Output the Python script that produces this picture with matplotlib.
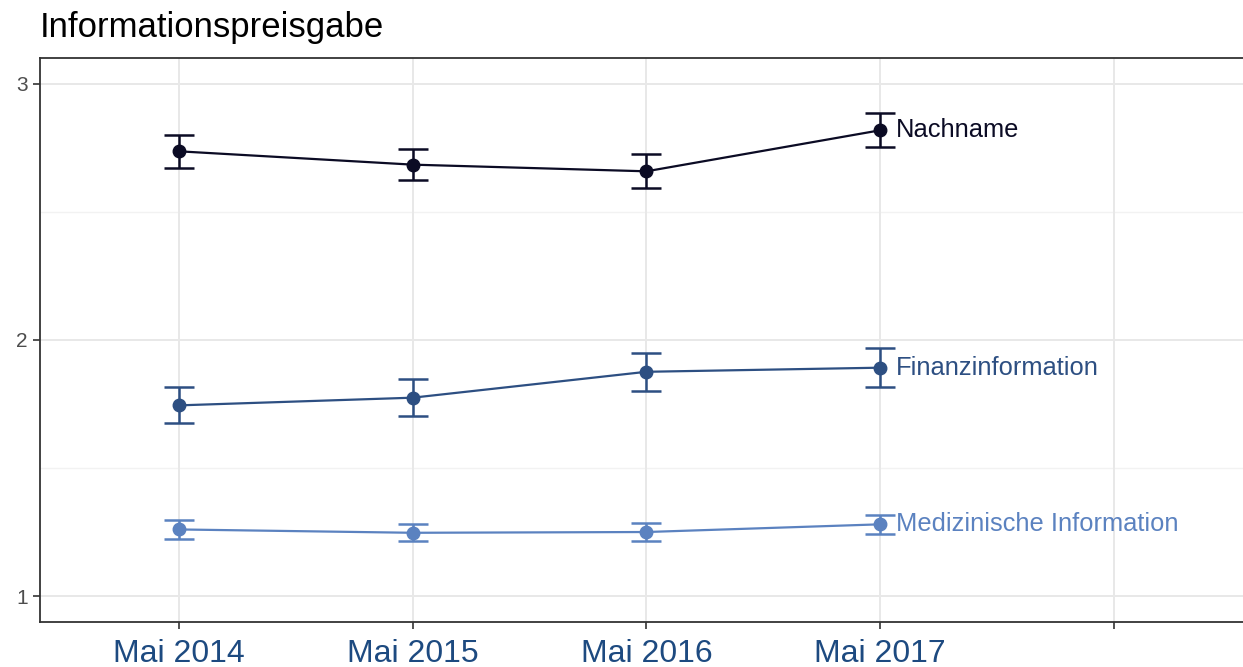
import numpy as np
import matplotlib
matplotlib.use("Agg")
from matplotlib import pyplot as plt

plt.rcParams['font.family'] = ['Liberation Sans', 'DejaVu Sans']

# survey waves
waves = ["Mai 2014", "Mai 2015", "Mai 2016", "Mai 2017"]
wave_pos = [1, 2, 3, 4]

# mean values, with half-width of the error bars
nachname = [2.736, 2.684, 2.658, 2.818]
nachname_err = [0.065, 0.060, 0.066, 0.066]

finanz = [1.745, 1.775, 1.876, 1.892]
finanz_err = [0.070, 0.072, 0.074, 0.077]

medizin = [1.261, 1.248, 1.251, 1.281]
medizin_err = [0.038, 0.033, 0.036, 0.036]

series = [
    ("Nachname", nachname, nachname_err, "#0b0b24"),
    ("Finanzinformation", finanz, finanz_err, "#2d4f82"),
    ("Medizinische Information", medizin, medizin_err, "#5b82c0"),
]

W, H = 1243, 667
fig = plt.figure(figsize=(W / 100, H / 100), dpi=100)
ax = fig.add_axes([40 / W, 1 - 622 / H, 1 - 40 / W, (622 - 58) / H])

ax.set_xlim(0.405, 5.553)
ax.set_ylim(0.9, 3.1)

# grid like ggplot theme_bw
ax.set_axisbelow(True)
for y in [1, 2, 3]:
    ax.axhline(y, color="#e8e8e8", lw=1.4, zorder=0)
for y in [1.5, 2.5]:
    ax.axhline(y, color="#f2f2f2", lw=1.0, zorder=0)
for x in [1, 2, 3, 4, 5]:
    ax.axvline(x, color="#e8e8e8", lw=1.4, zorder=0)

for name, vals, errs, col in series:
    ax.errorbar(wave_pos, vals, yerr=errs, color=col, lw=1.6, marker="o",
                markersize=9, capsize=11, capthick=1.8, elinewidth=1.8, zorder=3)
    ax.annotate(name, xy=(wave_pos[-1], vals[-1]), xytext=(16, 0),
                textcoords="offset pixels", va="center", ha="left",
                fontsize=18.4, color=col)

ax.set_xticks([1, 2, 3, 4, 5])
ax.set_xticklabels(waves + [""], fontsize=23, color="#1d4a80")
ax.set_yticks([1, 2, 3])
ax.set_yticklabels(["1", "2", "3"], fontsize=15, color="#4d4d4d")
ax.tick_params(axis="both", length=5, width=1.2, color="#333333")
ax.tick_params(axis="x", pad=7)
ax.tick_params(axis="y", pad=4)

for side in ["left", "bottom", "top"]:
    ax.spines[side].set_color("#333333")
    ax.spines[side].set_linewidth(1.3)
ax.spines["right"].set_visible(False)

fig.text(40 / W, 1 - 37 / H, "Informationspreisgabe", fontsize=25,
         ha="left", va="baseline", color="#000000")

fig.savefig("out.png", dpi=100)
